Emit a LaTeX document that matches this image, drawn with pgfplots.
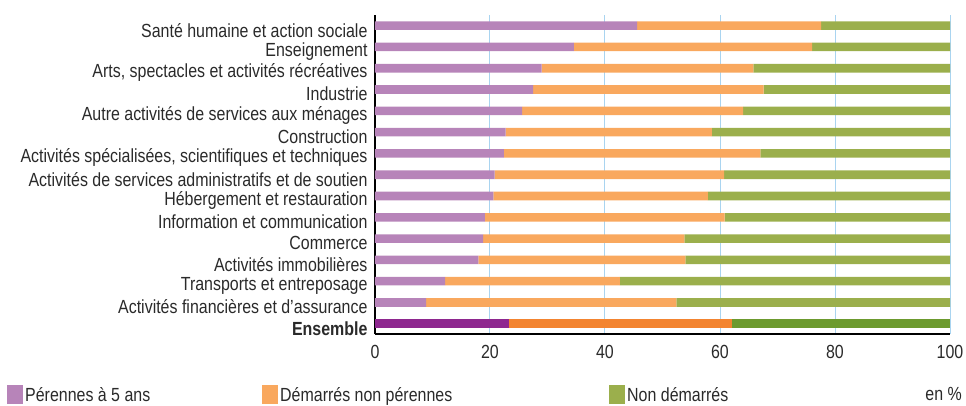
\documentclass[border=0pt]{standalone}
\usepackage{pgfplots}
\pgfplotsset{compat=1.18}
\usepackage{fontspec}
\setmainfont{Liberation Sans}[FakeStretch=0.84]
\definecolor{cP}{HTML}{B784B9}
\definecolor{cO}{HTML}{F9A85E}
\definecolor{cG}{HTML}{9BAF4C}
\definecolor{dP}{HTML}{8E278F}
\definecolor{dO}{HTML}{F38430}
\definecolor{dG}{HTML}{6C9A2E}
\definecolor{gridb}{HTML}{A9D4F0}
\definecolor{txt}{HTML}{2A2A2A}
\begin{document}
\begin{tikzpicture}
\begin{axis}[
  xbar stacked,
  scale only axis,
  width=575pt, height=319pt,
  xmin=0, xmax=100,
  ymin=-0.48, ymax=14.5,
  bar width=8.6pt,
  axis x line=bottom, axis y line=left,
  axis line style={line width=1.6pt, black, -},
  xtick={0,20,40,60,80,100},
  ytick={0,...,14},
  yticklabels={\textbf{Ensemble},Activités financières et d'assurance,Transports et entreposage,Activités immobilières,Commerce,Information et communication,Hébergement et restauration,Activités de services administratifs et de soutien,{Activités spécialisées, scientifiques et techniques},Construction,Autre activités de services aux ménages,Industrie,{Arts, spectacles et activités récréatives},Enseignement,Santé humaine et action sociale},
  major tick length=0pt,
  xmajorgrids, major grid style={gridb, line width=1pt},
  ticklabel style={font=\fontsize{19}{21}\selectfont, text=txt},
  /pgf/number format/assume math mode=true,
  yticklabel style={xshift=-4pt, yshift=-4.5pt},
  xticklabel style={yshift=-8pt},
  legend columns=3,
  legend style={draw=none, at={(rel axis cs:0,0)}, anchor=north west, xshift=-368pt, yshift=-51pt, font=\fontsize{19}{21}\selectfont, text=txt, inner sep=0pt},
  legend cell align=left,
  /tikz/every even column/.append style={column sep=0pt},
  legend image code/.code={\fill[#1] (0pt,-9.5pt) rectangle (16pt,9.5pt);},
  clip=false,
]
\addplot[fill=cP, draw=none] coordinates {(0,0) (8.9,1) (12.2,2) (18.0,3) (18.8,4) (19.1,5) (20.6,6) (20.8,7) (22.4,8) (22.7,9) (25.6,10) (27.5,11) (29.0,12) (34.6,13) (45.6,14)};
\addplot[fill=dP, draw=none, forget plot] coordinates {(23.3,0) (0,1) (0,2) (0,3) (0,4) (0,5) (0,6) (0,7) (0,8) (0,9) (0,10) (0,11) (0,12) (0,13) (0,14)};
\addplot[fill=cO, draw=none] coordinates {(0,0) (43.5,1) (30.4,2) (36.0,3) (35.0,4) (41.7,5) (37.3,6) (39.9,7) (44.6,8) (35.9,9) (38.4,10) (40.1,11) (36.8,12) (41.4,13) (32.0,14)};
\addplot[fill=dO, draw=none, forget plot] coordinates {(38.7,0) (0,1) (0,2) (0,3) (0,4) (0,5) (0,6) (0,7) (0,8) (0,9) (0,10) (0,11) (0,12) (0,13) (0,14)};
\addplot[fill=cG, draw=none] coordinates {(0,0) (47.6,1) (57.4,2) (46.0,3) (46.2,4) (39.2,5) (42.1,6) (39.3,7) (33.0,8) (41.4,9) (36.0,10) (32.4,11) (34.2,12) (24.0,13) (22.4,14)};
\addplot[fill=dG, draw=none, forget plot] coordinates {(38.0,0) (0,1) (0,2) (0,3) (0,4) (0,5) (0,6) (0,7) (0,8) (0,9) (0,10) (0,11) (0,12) (0,13) (0,14)};
\legend{\makebox[235pt][l]{Pérennes à 5 ans},\makebox[327pt][l]{Démarrés non pérennes},Non démarrés}
\node[anchor=east, font=\fontsize{19}{21}\selectfont, text=txt, inner sep=0pt] at ([xshift=12pt,yshift=-60pt]rel axis cs:1,0) {en \%};
\coordinate (bl) at ([xshift=-375pt,yshift=-71pt]rel axis cs:0,0);
\coordinate (tr) at ([xshift=16pt,yshift=15pt]rel axis cs:1,1);
\end{axis}
\pgfresetboundingbox
\path (bl) rectangle (tr);
\end{tikzpicture}
\end{document}
